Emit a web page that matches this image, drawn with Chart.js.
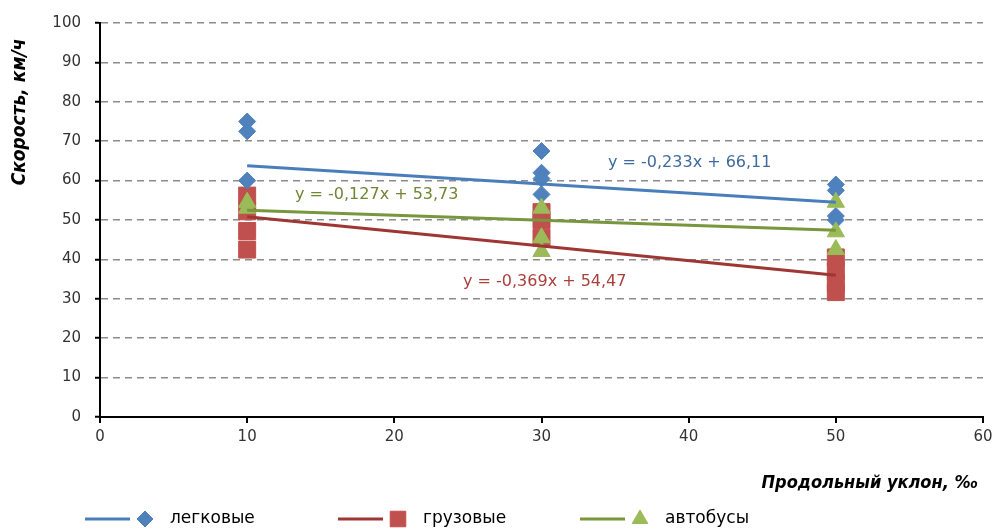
<!DOCTYPE html>
<html>
<head>
    <title>Скорость и продольный уклон</title>
    <script src="https://cdn.jsdelivr.net/npm/chart.js"></script>
    <style>
        body { margin: 0; background: #fff; }
        #wrap { width: 1002px; height: 529px; }
    </style>
</head>
<body>
    <div id="wrap"><canvas id="myChart" width="1002" height="529"></canvas></div>
    <script>
        // observed speeds, km/h, at grades of 10, 30 and 50 ‰
        const carsX   = [10, 10, 10, 30, 30, 30, 30, 50, 50, 50, 50];
        const carsY   = [75, 72.5, 60, 67.5, 62, 60.5, 56.5, 59, 57.5, 51, 50];
        const trucksX = [10, 10, 10, 10, 30, 30, 30, 50, 50, 50, 50];
        const trucksY = [56.2, 52.2, 47.2, 42.5, 52, 50, 45.5, 40.5, 37, 34, 31.7];
        const busesX  = [10, 10, 30, 30, 30, 50, 50, 50];
        const busesY  = [54.5, 53, 53, 45.5, 42, 54.5, 47, 42.5];

        // linear trendlines, read at x = 10 and x = 50
        const trendX      = [10, 50];
        const carsTrend   = [63.8, 54.5];
        const trucksTrend = [50.8, 36.0];
        const busesTrend  = [52.5, 47.4];

        const xTicks = [0, 10, 20, 30, 40, 50, 60];
        const yTicks = [0, 10, 20, 30, 40, 50, 60, 70, 80, 90, 100];

        const toPts = (xs, ys) => xs.map((x, i) => ({ x: x, y: ys[i] }));

        const blue = '#4F81BD', red = '#C0504D', green = '#9BBB59';
        const blueLine = '#4A7EBB', redLine = '#9E3734', greenLine = '#78963C';

        const sans = '"DejaVu Sans", Verdana, sans-serif';
        const narrow = '"Liberation Sans Narrow", "DejaVu Sans Condensed", sans-serif';

        // equation labels, legend and axis titles
        const extras = {
            id: 'extras',
            afterDraw(chart) {
                const c = chart.ctx;
                c.save();
                c.font = '16px ' + sans;
                c.textBaseline = 'middle';
                c.textAlign = 'left';
                c.fillStyle = '#3F6A9E';
                c.fillText('y = -0,233x + 66,11', 608, 163);
                c.fillStyle = '#6F8634';
                c.fillText('y = -0,127x + 53,73', 295, 195);
                c.fillStyle = '#A8403C';
                c.fillText('y = -0,369x + 54,47', 463, 282);

                // axis titles
                c.fillStyle = '#000';
                c.font = 'italic bold 18px ' + narrow;
                c.textAlign = 'right';
                c.fillText('Продольный уклон, ‰', 978, 483);
                c.save();
                c.translate(20, 112);
                c.rotate(-Math.PI / 2);
                c.textAlign = 'center';
                c.font = 'italic bold 19px ' + narrow;
                c.fillText('Скорость, км/ч', 0, 0);
                c.restore();

                // legend
                const items = [
                    { x: 85, line: blueLine, fill: blue, style: 'rectRot', r: 8, text: 'легковые' },
                    { x: 338, line: redLine, fill: red, style: 'rect', r: 11, text: 'грузовые' },
                    { x: 580, line: greenLine, fill: green, style: 'triangle', r: 9, text: 'автобусы' }
                ];
                const ly = 519;
                c.font = '17px ' + sans;
                c.textAlign = 'left';
                items.forEach(it => {
                    c.strokeStyle = it.line;
                    c.lineWidth = 3;
                    c.beginPath();
                    c.moveTo(it.x, ly);
                    c.lineTo(it.x + 45, ly);
                    c.stroke();
                    c.fillStyle = it.fill;
                    c.strokeStyle = it.fill;
                    c.lineWidth = 1;
                    Chart.helpers.drawPoint(c, { pointStyle: it.style, radius: it.r, rotation: 0, borderWidth: 1 }, it.x + 60, ly);
                    c.fillStyle = '#000';
                    c.fillText(it.text, it.x + 85, ly);
                });
                c.restore();
            }
        };

        const tickFont = { family: sans, size: 15 };

        const ctx = document.getElementById('myChart').getContext('2d');
        const myChart = new Chart(ctx, {
            type: 'scatter',
            data: {
                datasets: [
                    { label: 'легковые', data: toPts(carsX, carsY), pointStyle: 'rectRot', pointRadius: 8.5,
                      backgroundColor: blue, borderColor: blue, order: 2 },
                    { label: 'грузовые', data: toPts(trucksX, trucksY), pointStyle: 'rect', pointRadius: 12,
                      backgroundColor: red, borderColor: red, borderWidth: 1, order: 3 },
                    { label: 'автобусы', data: toPts(busesX, busesY), pointStyle: 'triangle', pointRadius: 10,
                      backgroundColor: green, borderColor: green, order: 1 },
                    { type: 'line', data: toPts(trendX, carsTrend), borderColor: blueLine, borderWidth: 3,
                      pointRadius: 0, fill: false, order: 0 },
                    { type: 'line', data: toPts(trendX, trucksTrend), borderColor: redLine, borderWidth: 3,
                      pointRadius: 0, fill: false, order: 0 },
                    { type: 'line', data: toPts(trendX, busesTrend), borderColor: greenLine, borderWidth: 3,
                      pointRadius: 0, fill: false, order: 0 }
                ]
            },
            options: {
                responsive: false,
                animation: false,
                layout: { padding: { left: 0, right: 19, top: 21, bottom: 72 } },
                plugins: { legend: { display: false }, tooltip: { enabled: false } },
                scales: {
                    x: {
                        type: 'linear', min: 0, max: 60,
                        afterBuildTicks: s => { s.ticks = xTicks.map(v => ({ value: v })); },
                        afterFit: s => { s.height = 40; },
                        grid: { display: true, drawOnChartArea: false, tickLength: 6, color: '#000', lineWidth: 2 },
                        border: { color: '#000', width: 2 },
                        ticks: { color: '#333', font: tickFont, padding: 5 }
                    },
                    y: {
                        min: 0, max: 100,
                        afterBuildTicks: s => { s.ticks = yTicks.map(v => ({ value: v })); },
                        afterFit: s => { s.width = 100; },
                        grid: { color: '#8c8c8c', lineWidth: 1.5, tickColor: '#000', tickWidth: 2, tickLength: 5,
                                tickBorderDash: [] },
                        border: { color: '#000', width: 2, dash: [7, 5] },
                        ticks: { color: '#333', font: tickFont, padding: 14 }
                    }
                }
            },
            plugins: [extras]
        });
    </script>
</body>
</html>
